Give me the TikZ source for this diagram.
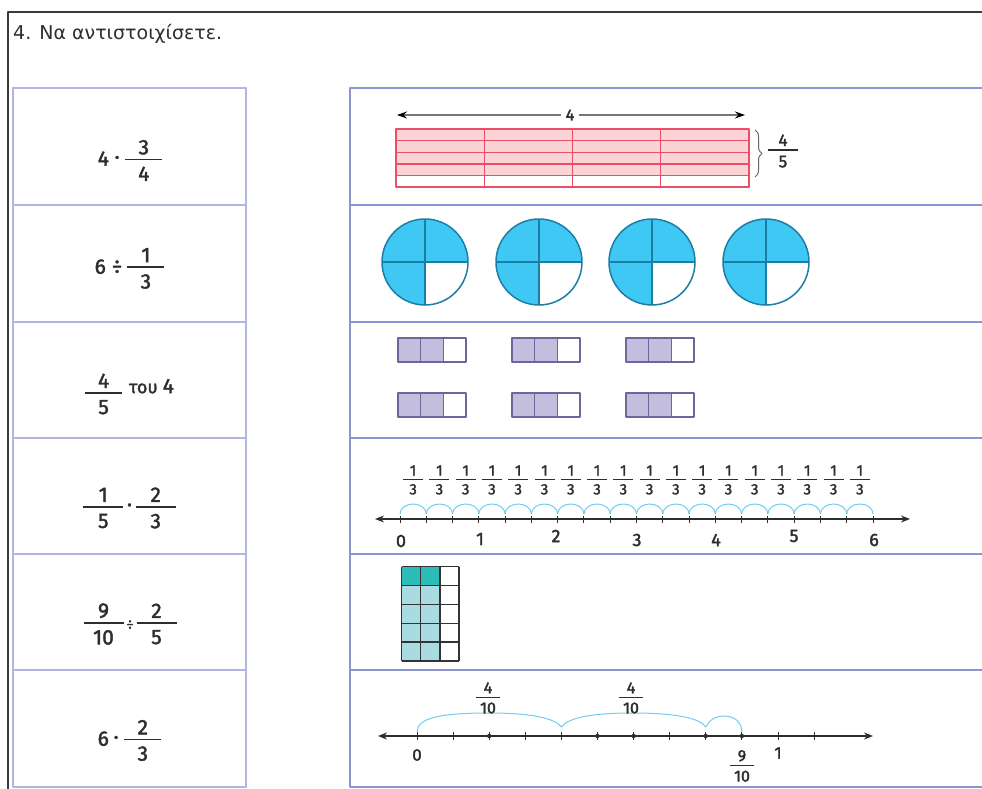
\documentclass[tikz,border=0pt]{standalone}
\usepackage{graphicx}
\usepackage{fontspec}
\setmainfont{Fira Sans}[FakeBold=1.8]
\newfontfamily\titlefont{DejaVu Sans}
\usetikzlibrary{arrows.meta,decorations.pathreplacing}

\definecolor{ink}{HTML}{2E2E2E}
\definecolor{framec}{HTML}{3A3A3A}
\definecolor{lbox}{HTML}{B0B5E3}
\definecolor{rbox}{HTML}{8E94D2}
\definecolor{pinkfill}{HTML}{FAD3D7}
\definecolor{pinkline}{HTML}{EA4F68}
\definecolor{cblue}{HTML}{40C8F4}
\definecolor{cline}{HTML}{1C7EA6}
\definecolor{barfill}{HTML}{C3BDDE}
\definecolor{barline}{HTML}{6C669C}
\definecolor{arcblue}{HTML}{72CDF0}
\definecolor{tealdark}{HTML}{2DBDB9}
\definecolor{teallight}{HTML}{A9DCE1}
\definecolor{gridc}{HTML}{333333}
\definecolor{arrowgray}{HTML}{777777}
\definecolor{bracegray}{HTML}{666666}

\newcommand\fr[3]{\ensuremath{\vcenter{\hbox to #1{\hfil#2\hfil}\kern0.2em\hrule height 0.075em\kern0.3em\hbox to #1{\hfil#3\hfil}}}}
\newcommand\dotop{\raisebox{0.17em}{\scalebox{0.65}{•}}}

\tikzset{
 lefttxt/.style={inner sep=0, text=ink, font=\fontsize{21}{25}\selectfont},
 lablg/.style={inner sep=0, text=ink, font=\fontsize{18}{20}\selectfont},
 labmd/.style={inner sep=0, text=ink, font=\fontsize{17}{19}\selectfont},
 labsm/.style={inner sep=0, text=ink, font=\fontsize{15}{17}\selectfont},
 numarrow/.style={ink, line width=1.3, {Stealth[length=9pt,width=7pt]}-{Stealth[length=9pt,width=7pt]}},
}

\begin{document}
\begin{tikzpicture}[x=1pt,y=-1pt,line join=round]
\useasboundingbox (0,0) rectangle (982,789);
\fill[white] (0,0) rectangle (982,789);

% outer frame
\draw[framec, line width=2] (982,12) -- (8,12) -- (8,789);

% title
\node[anchor=base west, inner sep=0, text=ink, font=\titlefont\fontsize{19}{22}\selectfont] (title) at (13,39.5) {4. Να αντιστοιχίσετε.};

% left boxes
\foreach \t/\b in {88/205,205/322,322/438,438/554,554/670,670/787}
  \draw[lbox, line width=2.2] (13,\t) rectangle (246,\b);

% right boxes
\draw[rbox, line width=2] (982,88) -- (350,88) -- (350,787) -- (982,787);
\foreach \y in {205,322,438,554,670}
  \draw[rbox, line width=2] (350,\y) -- (982,\y);

% left texts
\node[lefttxt] (L1) at (130,160.5) {4\hspace{6pt}\dotop\hspace{6pt}\fr{37pt}{3}{4}};
\node[lefttxt] (L2) at (129.5,268.5) {6\hspace{6pt}÷\hspace{5pt}\fr{37pt}{1}{3}};
\node[lefttxt] (L3) at (129.5,394) {\fr{37pt}{4}{5}\hspace{7pt}\raisebox{6pt}{{\fontsize{18}{20}\selectfont του}\hspace{5pt}4}};
\node[lefttxt] (L4) at (129.5,508) {\fr{40pt}{1}{5}\hspace{4pt}\dotop\hspace{4pt}\fr{40pt}{2}{3}};
\node[lefttxt] (L5) at (130,624) {\fr{40pt}{9}{10}\hspace{3pt}{\fontsize{14}{14}\selectfont ÷}\hspace{3pt}\fr{40pt}{2}{5}};
\node[lefttxt] (L6) at (129.5,740.5) {6\hspace{5pt}\dotop\hspace{6pt}\fr{37pt}{2}{3}};

% ---- row 1: rectangle 4 x 4/5
\draw[arrowgray, line width=1.2, {Stealth[length=10pt,width=7pt,black]}-{Stealth[length=10pt,width=7pt,black]}] (397,115) -- (745,115);
\node[labsm, fill=white, inner xsep=5pt, inner ysep=2pt, font=\fontsize{16}{18}\selectfont] (four) at (570,115) {4};
\fill[pinkfill] (396,129) rectangle (749,175.4);
\draw[pinkline, line width=1.4] (396,129) rectangle (749,187);
\foreach \x in {484.25,572.5,660.75} \draw[pinkline, line width=1.4] (\x,129) -- (\x,187);
\foreach \y in {140.6,152.2,163.8,175.4} \draw[pinkline, line width=1.4] (396,\y) -- (749,\y);
\draw[bracegray, line width=1, decorate, decoration={brace, amplitude=7pt}] (755,130) -- (755,177);
\node[labmd] (ffrac) at (783,151) {\fr{30pt}{4}{5}};

% ---- row 2: circles
\foreach \cx in {425,539,652,766} {
  \fill[cblue] (\cx,262) circle[radius=43];
  \fill[white] (\cx,262) -- (\cx+43,262) arc[start angle=0, end angle=90, radius=43] -- cycle;
  \draw[cline, line width=1.5] (\cx,262) circle[radius=43];
  \draw[cline, line width=1.5] (\cx-43,262) -- (\cx+43,262) (\cx,219) -- (\cx,305);
}

% ---- row 3: bars
\foreach \bx in {398,512,626} {
  \foreach \by in {338,393} {
    \fill[barfill] (\bx,\by) rectangle ++(45.33,24);
    \draw[barline, line width=1.6] (\bx,\by) rectangle ++(68,24);
    \draw[barline, line width=1.6] (\bx+22.67,\by) -- ++(0,24) (\bx+45.33,\by) -- ++(0,24);
  }
}

% ---- row 4: number line thirds
\draw[numarrow] (375,519) -- (910,519);
\foreach \k in {0,...,18} \draw[ink, line width=1] ({400+26.278*\k},515.5) -- ++(0,7);
\foreach \k in {0,...,17} {
  \draw[arcblue, line width=1] ({400+26.278*\k},514) arc[start angle=180, end angle=360, x radius=13.139, y radius=10];
  \node[labsm] (t\k) at ({413.14+26.278*\k},480) {\fr{20pt}{1}{3}};
}
\node[lablg] (n0) at (401,541) {0};
\node[lablg] (n1) at (480,539) {1};
\node[lablg] (n2) at (556,536) {2};
\node[lablg] (n3) at (637,540) {3};
\node[lablg] (n4) at (716,540) {4};
\node[lablg] (n5) at (794,536) {5};
\node[lablg] (n6) at (874,540) {6};

% ---- row 5: grid
\fill[tealdark] (401.7,566.7) rectangle (439.9,585.56);
\fill[teallight] (401.7,585.56) rectangle (439.9,661);
\foreach \i in {0,...,3} \draw[gridc, line width=1.3] ({401.7+19.1*\i},566.7) -- ({401.7+19.1*\i},661);
\foreach \j in {0,...,5} \draw[gridc, line width=1.3] (401.7,{566.7+18.86*\j}) -- (459,{566.7+18.86*\j});

% ---- row 6: number line tenths
\draw[numarrow] (378,736) -- (873,736);
\foreach \k in {0,...,11} \draw[ink, line width=1] ({417+36.1*\k},732) -- ++(0,8);
\foreach \k in {2,5,6,8,9} \fill[ink] ({417+36.1*\k},736) circle[radius=2.2];
\draw[arcblue, line width=1] (417,732) .. controls (417,718) and (440,713) .. (489,713)
  .. controls (530,713) and (555,718) .. (561.4,727)
  .. controls (568,718) and (590,713) .. (633,713)
  .. controls (675,713) and (700,718) .. (705.8,727)
  .. controls (711,718) and (717,716) .. (724,716)
  .. controls (734,716) and (742,722) .. (741.9,732);
\node[labsm, font=\fontsize{16}{18}\selectfont] (q1) at (488,698) {\fr{24pt}{4}{10}};
\node[labsm, font=\fontsize{16}{18}\selectfont] (q2) at (631,698) {\fr{24pt}{4}{10}};
\node[labmd] (z0) at (417,755) {0};
\node[labsm, font=\fontsize{16}{18}\selectfont] (q3) at (742,766) {\fr{24pt}{9}{10}};
\node[labmd] (z1) at (778,753) {1};

\end{tikzpicture}
\end{document}
